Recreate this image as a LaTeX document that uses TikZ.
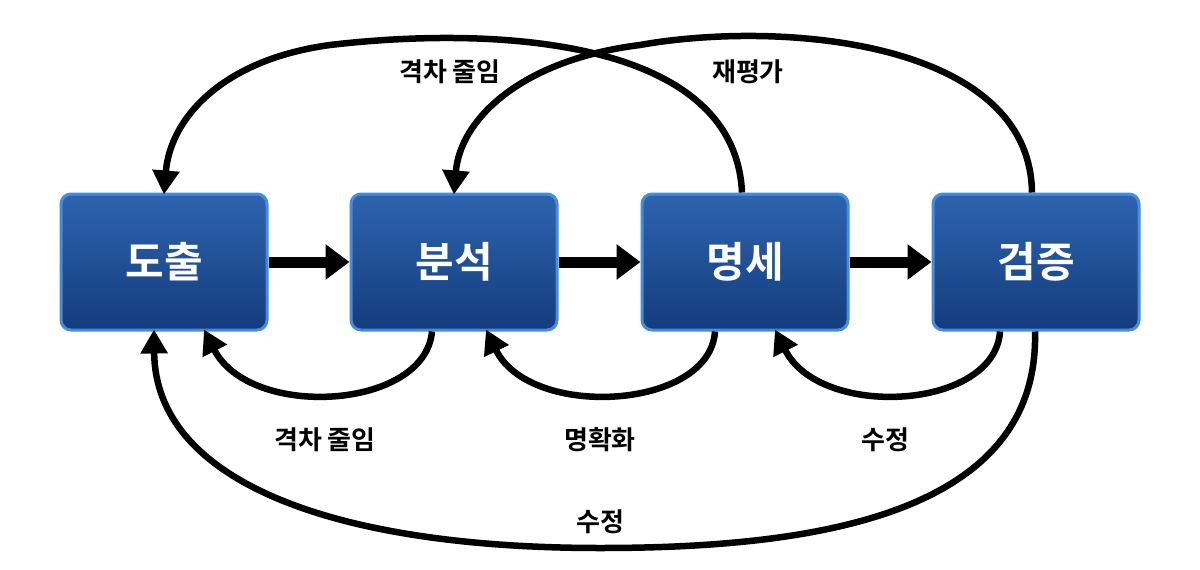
\documentclass[tikz,border=0pt]{standalone}
\usepackage{fontspec}
\newfontfamily\kr{Noto Sans CJK KR}[BoldFont={Noto Sans CJK KR Bold}]
\usetikzlibrary{arrows.meta}
\definecolor{bdark}{RGB}{20,60,125}
\definecolor{blight}{RGB}{45,100,175}
\definecolor{bedge}{RGB}{70,140,220}
\begin{document}
\begin{tikzpicture}[x=1pt,y=-1pt,
 box/.style={draw=bedge,line width=3pt,rounded corners=10pt,top color=blight,bottom color=bdark,minimum width=206pt,minimum height=136pt,text=white,font=\kr\bfseries\fontsize{42}{44}\selectfont},
 arr/.style={line width=11pt,-{Triangle[length=24pt,width=34pt]}},
 loop/.style={line width=6.5pt,-{Triangle[length=24pt,width=26pt]}},
 lab/.style={font=\kr\bfseries\fontsize{26}{28}\selectfont,text=black}]
\useasboundingbox (0,0) rectangle (1200,570);
\node[box] (a) at (164,262) {도출};
\node[box] (b) at (454,262) {분석};
\node[box] (c) at (745,262) {명세};
\node[box] (d) at (1036,262) {검증};
\draw[arr] (a.east) -- (b.west);
\draw[arr] (b.east) -- (c.west);
\draw[arr] (c.east) -- (d.west);
% top arcs
\draw[loop] ([xshift=-3pt]c.north) .. controls (735,40) and (500,25) .. (330,45) .. controls (220,60) and (170,120) .. ([yshift=-2pt]a.north);
\draw[loop] ([xshift=-4pt]d.north) .. controls (1030,40) and (780,20) .. (640,45) .. controls (520,60) and (460,120) .. ([yshift=-2pt]b.north);
% bottom arcs
\draw[loop] ([xshift=-22pt]b.south) .. controls (425,410) and (250,420) .. ([xshift=40pt,yshift=2pt]a.south);
\draw[loop] ([xshift=-30pt]c.south) .. controls (710,410) and (530,420) .. ([xshift=32pt,yshift=2pt]b.south);
\draw[loop] ([xshift=-36pt]d.south) .. controls (995,410) and (820,420) .. ([xshift=30pt,yshift=2pt]c.south);
\draw[loop] ([xshift=-1pt]d.south) .. controls (1040,520) and (800,548) .. (600,548) .. controls (330,548) and (155,480) .. ([xshift=-10pt,yshift=2pt]a.south);
\node[lab] (l1) at (450,72) {격차 줄임};
\node[lab] (l2) at (748,72) {재평가};
\node[lab] (l3) at (325,440) {격차 줄임};
\node[lab] (l4) at (600,440) {명확화};
\node[lab] (l5) at (885,440) {수정};
\node[lab] (l6) at (600,522) {수정};
\end{tikzpicture}
\end{document}
